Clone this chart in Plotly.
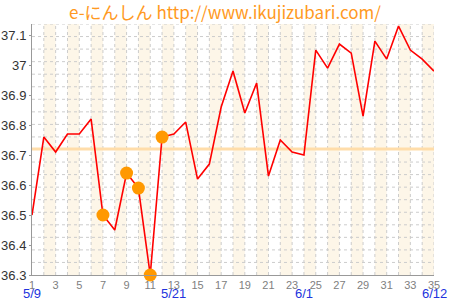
import plotly.graph_objects as go

days = list(range(1, 36))
temps = [36.50, 36.76, 36.71, 36.77, 36.77, 36.82, 36.50, 36.45, 36.64, 36.59,
         36.30, 36.76, 36.77, 36.81, 36.62, 36.67, 36.86, 36.98, 36.84, 36.94,
         36.63, 36.75, 36.71, 36.70, 37.05, 36.99, 37.07, 37.04, 36.83, 37.08,
         37.02, 37.13, 37.05, 37.02, 36.98]
marked_days = [7, 9, 10, 11, 12]
average_temp = 36.72
x_tick_vals = list(range(1, 36, 2))
x_tick_text = [str(v) for v in x_tick_vals]
y_tick_vals = [36.3, 36.4, 36.5, 36.6, 36.7, 36.8, 36.9, 37.0, 37.1]
y_tick_text = ["36.3", "36.4", "36.5", "36.6", "36.7", "36.8", "36.9", "37", "37.1"]
date_days = [1, 13, 24, 35]
date_labels = ["5/9", "5/21", "6/1", "6/12"]
title_text = "e-にんしん http://www.ikujizubari.com/"

y_min, y_max = 36.3, 37.137
x_min, x_max = 1, 35
n_ydiv = 20

fig = go.Figure()

fig.add_trace(go.Scatter(x=days, y=temps, mode="lines",
                         line=dict(color="#FF0000", width=1.6),
                         hoverinfo="skip", showlegend=False, cliponaxis=False))
my = [temps[d - 1] for d in marked_days]
fig.add_trace(go.Scatter(x=marked_days, y=my, mode="markers",
                         marker=dict(color="#FF9900", size=13, line=dict(width=0)),
                         hoverinfo="skip", showlegend=False, cliponaxis=False))

shapes = []
for d in range(2, 35, 2):
    shapes.append(dict(type="rect", xref="x", yref="y", x0=d, x1=d + 1,
                       y0=y_min, y1=y_max, fillcolor="#FDF6E8",
                       line=dict(width=0), layer="below"))
grid_line = dict(color="#CCCCCC", width=1, dash="3px,3px")
for d in range(x_min + 1, x_max + 1):
    shapes.append(dict(type="line", xref="x", yref="y", x0=d, x1=d,
                       y0=y_min, y1=y_max, line=grid_line, layer="below"))
for k in range(1, n_ydiv + 1):
    yv = y_min + (y_max - y_min) * k / n_ydiv
    shapes.append(dict(type="line", xref="x", yref="y", x0=x_min, x1=x_max,
                       y0=yv, y1=yv, line=grid_line, layer="below"))
shapes.append(dict(type="line", xref="x", yref="y", x0=x_min, x1=x_max,
                   y0=average_temp, y1=average_temp,
                   line=dict(color="#FFDDAA", width=3), layer="between"))

annotations = [dict(x=d, y=0, xref="x", yref="paper", text=t, showarrow=False,
                    yanchor="top", yshift=-10, borderpad=0,
                    font=dict(color="#2233DD", size=13, family="Liberation Sans"))
               for d, t in zip(date_days, date_labels)]

fig.update_layout(
    width=450, height=300,
    margin=dict(l=32, r=16, t=24, b=25, autoexpand=False),
    paper_bgcolor="white", plot_bgcolor="white",
    title=dict(text=title_text, x=0.5, xanchor="center", y=1 - 13 / 300,
               yanchor="middle",
               font=dict(color="#FF9922", size=17, family="Noto Sans CJK JP")),
    shapes=shapes, annotations=annotations,
    xaxis=dict(range=[x_min, x_max], tickvals=x_tick_vals, ticktext=x_tick_text,
               automargin=False,
               showgrid=False, zeroline=False, showline=True, linecolor="#999999",
               linewidth=1, ticks="",
               tickfont=dict(color="#808080", size=11, family="Liberation Sans")),
    yaxis=dict(range=[y_min, y_max], tickvals=y_tick_vals, ticktext=y_tick_text,
               automargin=False,
               showgrid=False, zeroline=False, showline=True, linecolor="#999999",
               linewidth=1, ticks="outside", ticklen=2, tickcolor="#999999",
               tickfont=dict(color="#333333", size=13, family="Liberation Sans")),
)

fig.write_html("out.html")
